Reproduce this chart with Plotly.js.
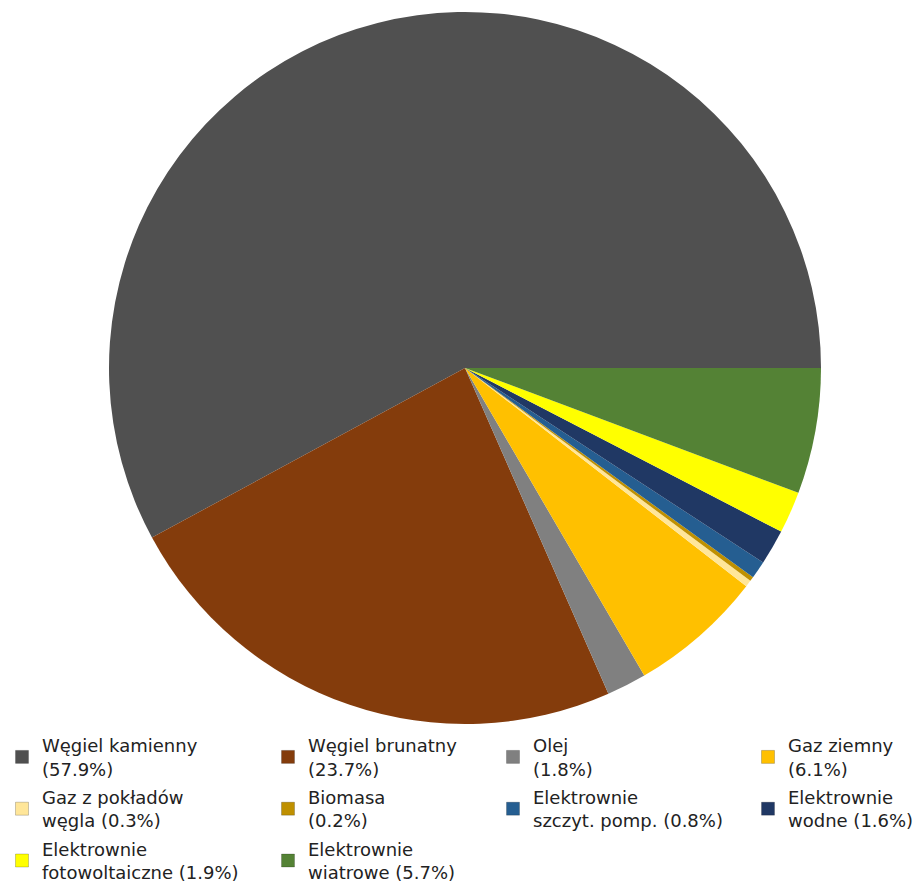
<!DOCTYPE html>
<html><head><meta charset="utf-8">
<script src="https://cdn.plot.ly/plotly-3.0.1.min.js"></script>
<style>html,body{margin:0;padding:0;background:#fff}#chart{width:917px;height:885px}</style>
</head><body><div id="chart"></div>
<script>
const categories = ["Węgiel kamienny", "Węgiel brunatny", "Olej", "Gaz ziemny", "Gaz z pokładów węgla", "Biomasa", "Elektrownie szczyt. pomp.", "Elektrownie wodne", "Elektrownie fotowoltaiczne", "Elektrownie wiatrowe"];
const legendNames = ["Węgiel kamienny<br>", "Węgiel brunatny<br>", "Olej<br>", "Gaz ziemny<br>", "Gaz z pokładów<br>węgla ", "Biomasa<br>", "Elektrownie<br>szczyt. pomp. ", "Elektrownie<br>wodne ", "Elektrownie<br>fotowoltaiczne ", "Elektrownie<br>wiatrowe "];
const shares = [57.9, 23.7, 1.8, 6.1, 0.3, 0.2, 0.8, 1.6, 1.9, 5.7];
const colors = ["#505050", "#843c0c", "#808080", "#ffc000", "#ffe699", "#bf9000", "#255e91", "#203864", "#ffff00", "#548235"];
const legendColumn = [1, 2, 3, 4, 1, 2, 3, 4, 1, 2];

const W = 917, H = 885;
const legendFont = {family: "DejaVu Sans, sans-serif", size: 18, color: "#222"};
const textLeft = [42, 308, 533, 788];

const traces = [{
  type: "pie",
  labels: categories,
  values: shares,
  sort: false,
  direction: "counterclockwise",
  rotation: -118.44,
  textinfo: "none",
  hoverinfo: "label+percent",
  showlegend: false,
  marker: {colors: colors, line: {width: 0}},
  domain: {x: [109 / W, 821 / W], y: [(H - 724) / H, (H - 12) / H]}
}];

categories.forEach((c, i) => {
  const col = legendColumn[i];
  traces.push({
    type: "scatter",
    x: [null], y: [null],
    mode: "markers",
    name: legendNames[i] + "(" + shares[i].toFixed(1) + "%)",
    marker: {symbol: "square", size: 13, color: colors[i], line: {width: 1, color: "rgba(0,0,0,0.2)"}},
    legend: col === 1 ? "legend" : "legend" + col,
    legendgroup: "g" + i,
    hoverinfo: "skip"
  });
});

const layout = {
  width: W, height: H,
  margin: {l: 0, r: 0, t: 0, b: 0, autoexpand: false},
  paper_bgcolor: "#fff", plot_bgcolor: "#fff",
  xaxis: {visible: false}, yaxis: {visible: false},
  showlegend: true
};
for (let c = 1; c <= 4; c++) {
  layout[c === 1 ? "legend" : "legend" + c] = {
    x: (textLeft[c - 1] - 40) / W, xanchor: "left",
    y: (H - 727) / H, yanchor: "top",
    orientation: "v",
    traceorder: "grouped",
    tracegroupgap: 2,
    font: legendFont,
    bgcolor: "rgba(0,0,0,0)",
    borderwidth: 0
  };
}

Plotly.newPlot("chart", traces, layout, {displayModeBar: false, responsive: false});
</script>
</body></html>
